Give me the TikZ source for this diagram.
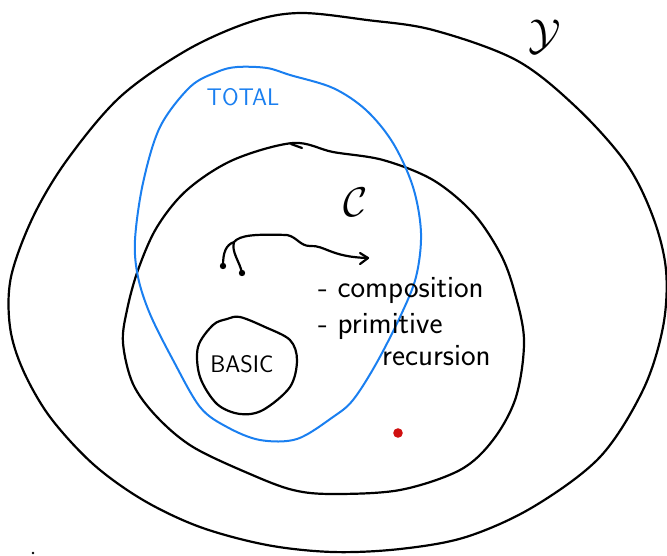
\documentclass[tikz,border=0pt]{standalone}
\usepackage{amssymb}
\definecolor{tblue}{HTML}{1A7FF0}
\definecolor{tred}{HTML}{D01010}
\tikzset{
  pen/.style={line width=2.2pt, line cap=round, line join=round},
  bluepen/.style={line width=2pt, line cap=round, line join=round, draw=tblue},
  hand/.style={inner sep=0pt, font=\sffamily\fontsize{31}{31}\selectfont},
  small/.style={inner sep=0pt, font=\sffamily\fontsize{24}{24}\selectfont},
}
\begin{document}
\begin{tikzpicture}[x=1pt,y=-1pt]
\useasboundingbox (0,0) rectangle (667,555);
% outer Y
\draw[pen] plot[smooth cycle, tension=0.55] coordinates {
 (300,13) (367,20) (433,30) (516,60) (576,107) (626,163) (653,217) (666,270)
 (663,327) (643,390) (600,457) (533,507) (466,537) (400,549) (333,552)
 (267,545) (200,527) (143,500) (93,464) (50,417) (23,370) (10,327) (11,277)
 (33,217) (67,160) (120,97) (187,50) (250,22)};
% inner C
\draw[pen] plot[smooth cycle, tension=0.55] coordinates {
 (293,143) (333,152) (383,160) (433,180) (473,213) (500,253) (514,290)
 (524,340) (516,397) (493,440) (460,470) (400,490) (333,494) (293,490)
 (250,474) (193,447) (157,417) (133,384) (123,343) (127,310) (138,270)
 (157,227) (187,190) (233,160)};
\draw[pen] (291,144) -- (302,148);
% blue TOTAL
\draw[bluepen] plot[smooth cycle, tension=0.55] coordinates {
 (217,72) (237,67) (267,68) (290,75) (333,88) (366,110) (393,143) (413,187)
 (421,233) (416,277) (400,317) (376,364) (353,400) (333,417) (297,439)
 (260,440) (227,427) (200,407) (173,360) (150,314) (138,277) (135,240)
 (143,183) (160,127) (190,87)};
% BASIC
\draw[pen] plot[smooth cycle, tension=0.55] coordinates {
 (227,319) (240,317) (265,327) (290,340) (297,360) (290,387) (263,410)
 (240,414) (217,404) (200,377) (198,347) (213,325)};
\node[small] (basic) at (242,364) {BASIC};
% labels
\node[small, text=tblue] (total) at (243,97) {TOTAL};
\node[inner sep=0pt] (ycal) at (545,37) {\scalebox{2.5}{\LARGE$\mathcal{Y}$}};
\node[inner sep=0pt] (ccal) at (356,202) {\scalebox{2.4}{\LARGE$\mathcal{C}$}};
\node[hand, anchor=base west] (comp) at (318,297) {- composition};
\node[hand, anchor=base west] (prim) at (318,333) {- primitive};
\node[hand, anchor=base west] (rec) at (382,365) {recursion};
% squiggle arrow
\coordinate (s1) at (223,266);
\coordinate (s2) at (242,273);
\coordinate (j) at (234,242);
\coordinate (e) at (368,258);
\draw[pen] (s1) .. controls (223,252) and (226,245) .. (j) .. controls (240,235) and (255,234) .. (287,235) .. controls (297,237) and (300,246) .. (310,246) .. controls (325,245) and (330,257) .. (e);
\draw[pen] (j) .. controls (231,252) and (240,262) .. (s2);
\draw[pen] (360,253) -- (e) -- (360,264);
\fill (s1) circle (3.2);
\fill (s2) circle (3.2);
% red dot
\fill[tred] (398,433) circle (4.8);
\fill (33,553) circle (1.3);
\end{tikzpicture}
\end{document}
